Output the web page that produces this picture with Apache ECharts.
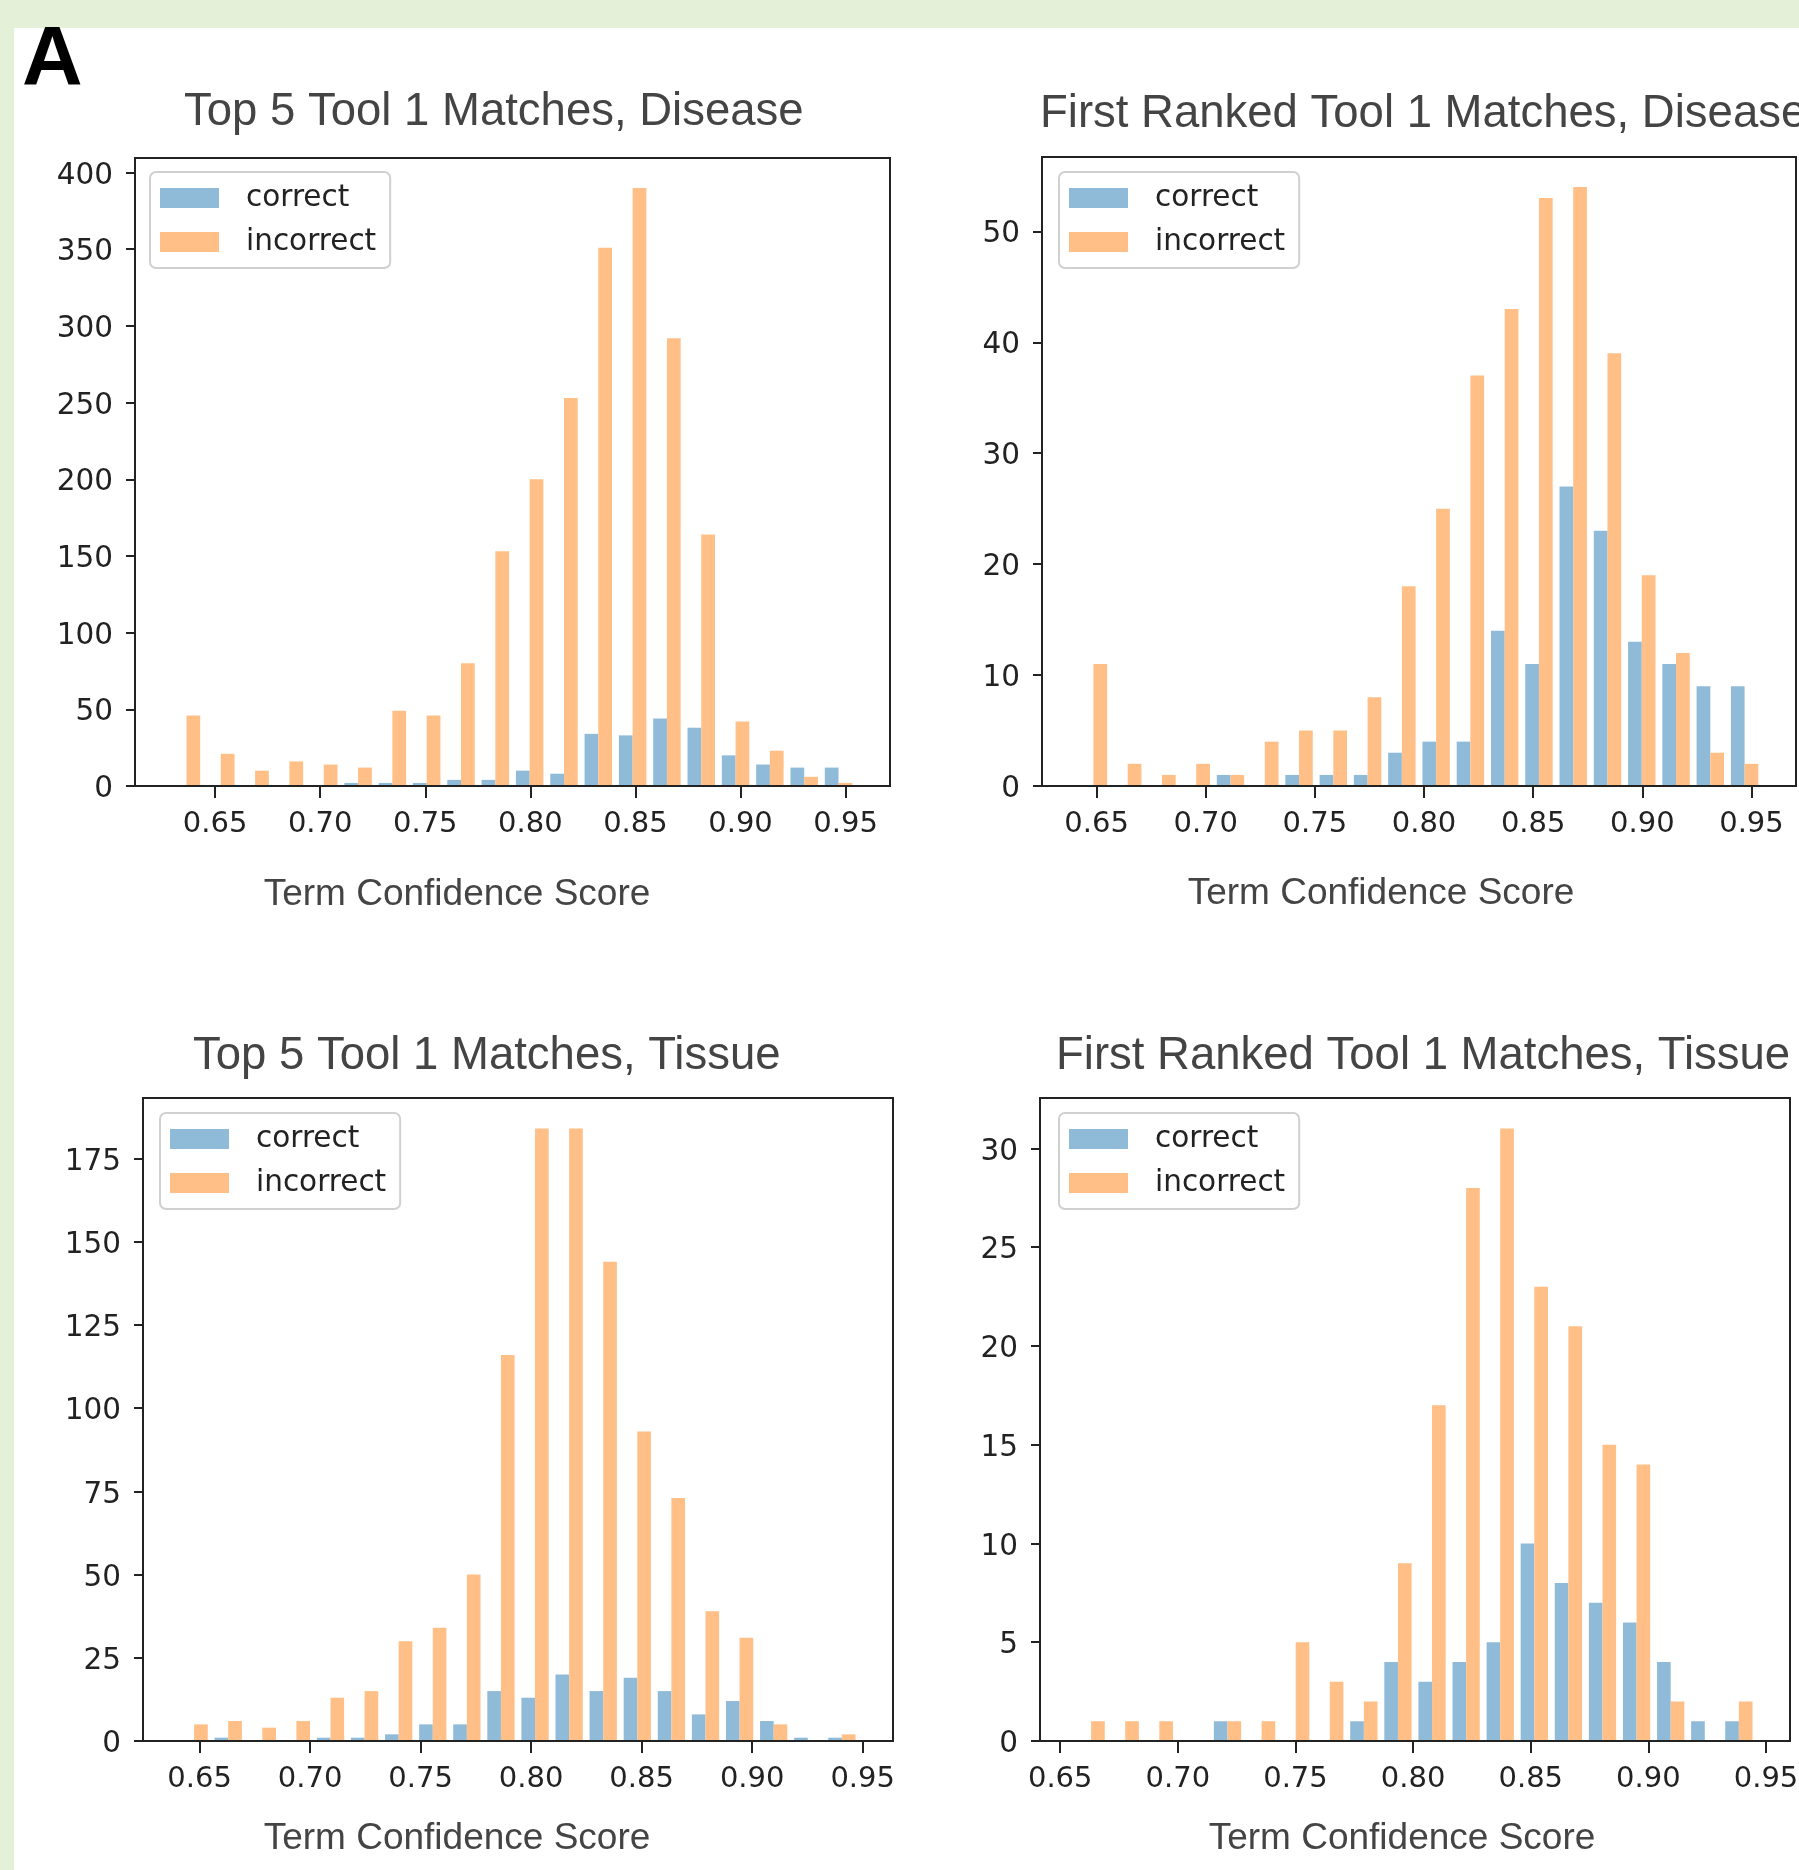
<!DOCTYPE html>
<html><head><meta charset="utf-8">
<script src="https://cdn.jsdelivr.net/npm/echarts@6/dist/echarts.min.js"></script>
<style>
html,body{margin:0;padding:0;background:#e4f0d8;}
#white{position:absolute;left:14px;top:28px;width:1785px;height:1842px;background:#ffffff;}
#chart{position:absolute;left:0;top:0;width:1799px;height:1870px;}
</style></head><body>
<div id="white"></div><div id="chart"></div>
<script>
// ---------------- data ----------------
const seriesNames = ['correct', 'incorrect'];
const panelLetter = 'A';
const xAxisName = 'Term Confidence Score';
const titleP1 = 'Top 5 Tool 1 Matches, Disease';
const titleP2 = 'First Ranked Tool 1 Matches, Disease';
const titleP3 = 'Top 5 Tool 1 Matches, Tissue';
const titleP4 = 'First Ranked Tool 1 Matches, Tissue';

const xTicks = [0.65, 0.70, 0.75, 0.80, 0.85, 0.90, 0.95];
const yTicksP1 = [0, 50, 100, 150, 200, 250, 300, 350, 400];
const yTicksP2 = [0, 10, 20, 30, 40, 50];
const yTicksP3 = [0, 25, 50, 75, 100, 125, 150, 175];
const yTicksP4 = [0, 5, 10, 15, 20, 25, 30];

// histogram bin range [first edge, last edge], 20 bins each
const binRangeP1 = [0.6282, 0.9548];
const binRangeP2 = [0.6407, 0.9547];
const binRangeP3 = [0.6398, 0.9483];
const binRangeP4 = [0.6559, 0.9457];

const correctP1   = [0, 0, 0, 0, 0, 2, 2, 2, 4, 4, 10, 8, 34, 33, 44, 38, 20, 14, 12, 12];
const incorrectP1 = [46, 21, 10, 16, 14, 12, 49, 46, 80, 153, 200, 253, 351, 390, 292, 164, 42, 23, 6, 2];
const correctP2   = [0, 0, 0, 0, 1, 0, 1, 1, 1, 3, 4, 4, 14, 11, 27, 23, 13, 11, 9, 9];
const incorrectP2 = [11, 2, 1, 2, 1, 4, 5, 5, 8, 18, 25, 37, 43, 53, 54, 39, 19, 12, 3, 2];
const correctP3   = [0, 1, 0, 0, 1, 1, 2, 5, 5, 15, 13, 20, 15, 19, 15, 8, 12, 6, 1, 1];
const incorrectP3 = [5, 6, 4, 6, 13, 15, 30, 34, 50, 116, 184, 184, 144, 93, 73, 39, 31, 5, 0, 2];
const correctP4   = [0, 0, 0, 0, 1, 0, 0, 0, 1, 4, 3, 4, 5, 10, 8, 7, 6, 4, 1, 1];
const incorrectP4 = [1, 1, 1, 0, 1, 1, 5, 3, 2, 9, 17, 28, 31, 23, 21, 15, 14, 2, 0, 2];

// ---------------- layout / style ----------------
const COLORS = ['#8fbbd9', '#ffbf86'];
const INK = '#222222';
const TEXT_GRAY = '#444444';

const panels = [
  { title: titleP1, range: binRangeP1, correct: correctP1, incorrect: incorrectP1, yTicks: yTicksP1,
    grid: {left: 135, top: 158, width: 755, height: 628}, legend: [150, 172], titlePos: [184, 112], namePos: [457, 895] },
  { title: titleP2, range: binRangeP2, correct: correctP2, incorrect: incorrectP2, yTicks: yTicksP2,
    grid: {left: 1042, top: 157, width: 754, height: 629}, legend: [1059, 172], titlePos: [1040, 114], namePos: [1381, 894] },
  { title: titleP3, range: binRangeP3, correct: correctP3, incorrect: incorrectP3, yTicks: yTicksP3,
    grid: {left: 143, top: 1098, width: 750, height: 643}, legend: [160, 1113], titlePos: [193, 1056], namePos: [457, 1839] },
  { title: titleP4, range: binRangeP4, correct: correctP4, incorrect: incorrectP4, yTicks: yTicksP4,
    grid: {left: 1040, top: 1098, width: 750, height: 643}, legend: [1059, 1113], titlePos: [1056, 1056], namePos: [1402, 1839] }
];

function binRects(range, values, k) {
  const n = values.length;
  const w = (range[1] - range[0]) / n;
  return values.map((v, i) => {
    const lo = range[0] + i * w;
    return k === 0 ? [lo + 0.1 * w, lo + 0.5 * w, v] : [lo + 0.5 * w, lo + 0.9 * w, v];
  });
}

function renderBar(params, api) {
  const p0 = api.coord([api.value(0), api.value(2)]);
  const p1 = api.coord([api.value(1), 0]);
  return {
    type: 'rect',
    shape: {x: p0[0], y: p0[1], width: p1[0] - p0[0], height: p1[1] - p0[1]},
    style: {fill: api.visual('color')}
  };
}

const grid = [], xAxis = [], yAxis = [], series = [], legend = [], graphic = [];

panels.forEach((p, idx) => {
  grid.push(Object.assign({show: true, borderColor: INK, borderWidth: 2, backgroundColor: 'transparent',
    containLabel: false, outerBoundsMode: 'none'}, p.grid));
  const span = p.range[1] - p.range[0];
  xAxis.push({
    type: 'value', gridIndex: idx, z: 5,
    min: p.range[0] - 0.05 * span, max: p.range[1] + 0.05 * span,
    axisLine: {show: true, onZero: false, lineStyle: {color: INK, width: 2}},
    axisTick: {show: true, customValues: xTicks, length: 12, lineStyle: {color: INK, width: 2}},
    axisLabel: {show: true, customValues: xTicks, formatter: v => v.toFixed(2), margin: 24,
      fontFamily: 'DejaVu Sans', fontSize: 29, color: INK},
    splitLine: {show: false}
  });
  const maxV = Math.max(...p.correct, ...p.incorrect);
  yAxis.push({
    type: 'value', gridIndex: idx, z: 5, min: 0, max: maxV * 1.05,
    axisLine: {show: true, lineStyle: {color: INK, width: 2}},
    axisTick: {show: true, customValues: p.yTicks, length: 9, lineStyle: {color: INK, width: 2}},
    axisLabel: {show: true, customValues: p.yTicks, margin: 22, verticalAlign: 'top', lineHeight: 7,
      fontFamily: 'DejaVu Sans', fontSize: 29.5, color: INK},
    splitLine: {show: false}
  });
  [p.correct, p.incorrect].forEach((vals, k) => {
    series.push({
      type: 'custom', name: seriesNames[k], xAxisIndex: idx, yAxisIndex: idx,
      itemStyle: {color: COLORS[k]},
      renderItem: renderBar,
      encode: {x: [0, 1], y: 2},
      data: binRects(p.range, vals, k),
      silent: true, animation: false
    });
  });
  legend.push({
    orient: 'vertical', left: p.legend[0], top: p.legend[1],
    data: seriesNames, icon: 'rect', itemWidth: 59, itemHeight: 20, itemGap: 14,
    selectedMode: false,
    textStyle: {fontFamily: 'DejaVu Sans', fontSize: 29.5, color: INK, lineHeight: 28, padding: [0, 0, 0, 22]},
    backgroundColor: '#ffffff', borderColor: '#d0d0d0', borderWidth: 2, borderRadius: 6,
    padding: [11, 14, 11, 10]
  });
  graphic.push({
    type: 'text', x: p.titlePos[0], y: p.titlePos[1], silent: true,
    style: {text: p.title, fill: TEXT_GRAY, font: '45.5px "Liberation Sans", Arial, sans-serif',
      textAlign: 'left', textVerticalAlign: 'middle'}
  });
  graphic.push({
    type: 'text', x: p.namePos[0], y: p.namePos[1], silent: true,
    style: {text: xAxisName, fill: TEXT_GRAY, font: '37px "Liberation Sans", Arial, sans-serif',
      textAlign: 'center', textVerticalAlign: 'middle'}
  });
});

graphic.push({
  type: 'text', x: 22, y: 62, silent: true,
  style: {text: panelLetter, fill: '#000000', font: 'bold 84px "Liberation Sans", Arial, sans-serif',
    textAlign: 'left', textVerticalAlign: 'middle'}
});

const chart = echarts.init(document.getElementById('chart'), null, {renderer: 'canvas'});
chart.setOption({
  animation: false,
  backgroundColor: 'transparent',
  grid, xAxis, yAxis, series, legend, graphic
});
</script>
</body></html>
